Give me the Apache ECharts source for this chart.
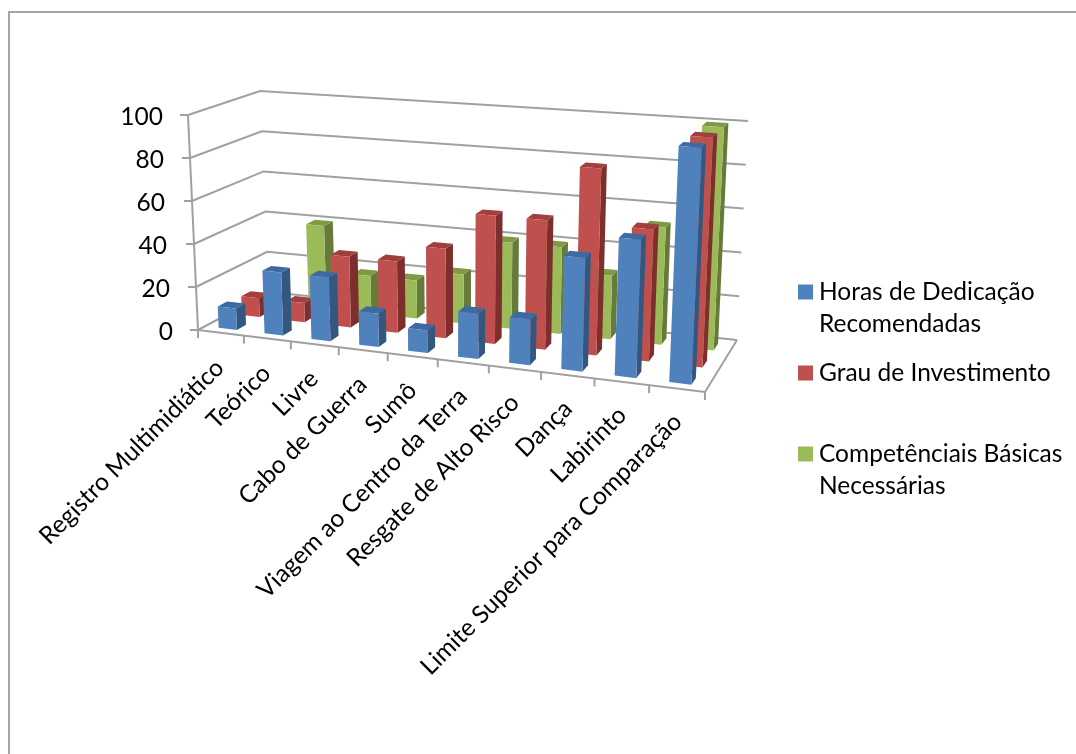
<!DOCTYPE html>
<html><head><meta charset="utf-8">
<style>html,body{margin:0;padding:0;background:#fff}#c{width:1076px;height:754px}</style>
<script src="https://cdn.jsdelivr.net/npm/echarts@6/dist/echarts.min.js"></script>
</head><body><div id="c"></div>
<script>
const categories = ["Registro Multimidiático","Teórico","Livre","Cabo de Guerra","Sumô","Viagem ao Centro da Terra","Resgate de Alto Risco","Dança","Labirinto","Limite Superior para Comparação"];
const horas = [10,29,29,15,10,20,20,49,59,100];
const grau = [9,9,33,33,41,58,58,83,58,100];
const competencias = [null,40,18,18,23,40,40,29,53,100];
const yTicks = [0,20,40,60,80,100];
const seriesNames = ["Horas de Dedicação Recomendadas","Grau de Investimento","Competênciais Básicas Necessárias"];
const legendLines = ["Horas de Dedicação\nRecomendadas","Grau de Investimento\n","Competênciais Básicas\nNecessárias"];

const FONT = 'Lato';
const FONT_SIZE = 24.5;
const GRID = {left:198, top:115, width:507, height:215};
const CORNERS = {
  frontLeft:  {b:[198,330], t:[188,115]},
  frontRight: {b:[705,392], t:[716,152]},
  backLeft:   {b:[269,292], t:[260,91]},
  backRight:  {b:[737,340], t:[748,121]}
};
const PERSP = 1.115;
const lerp = (a,b,k)=>[a[0]+(b[0]-a[0])*k, a[1]+(b[1]-a[1])*k];
function project(x, y, d){
  const u = (x-GRID.left)/GRID.width, vf = (GRID.top+GRID.height-y)/GRID.height;
  const t = u/(u+PERSP*(1-u));
  const C = CORNERS;
  const fl = lerp(lerp(C.frontLeft.b,C.frontRight.b,t), lerp(C.backLeft.b,C.backRight.b,t), d);
  const tp = lerp(lerp(C.frontLeft.t,C.frontRight.t,t), lerp(C.backLeft.t,C.backRight.t,t), d);
  return lerp(fl,tp,vf);
}
const poly = (points,fill)=>({type:'polygon',shape:{points},style:{fill}});
function barSeries(name,values,color,side,top,d0,d1,z){
  return {
    name, type:'custom', coordinateSystem:'cartesian2d', z, silent:true,
    itemStyle:{color}, encode:{x:0,y:1},
    data: values.map((v,i)=>[i,v]),
    renderItem(params,api){
      const v = api.value(1);
      if(v==null || isNaN(v)) return null;
      const i = api.value(0);
      const c = api.coord([i,v]), base = api.coord([i,0]), w = api.size([1,0])[0];
      const x0 = c[0]-w*0.2, x1 = c[0]+w*0.2, yT = c[1], yB = base[1];
      const P=(x,y,d)=>project(x,y,d);
      return {type:'group',children:[
        poly([P(x1,yB,d0),P(x1,yB,d1),P(x1,yT,d1),P(x1,yT,d0)],side),
        poly([P(x0,yT,d0),P(x1,yT,d0),P(x1,yT,d1),P(x0,yT,d1)],top),
        poly([P(x0,yB,d0),P(x1,yB,d0),P(x1,yT,d0),P(x0,yT,d0)],color)
      ]};
    }
  };
}
const LINE = {stroke:'#a0a0a0',lineWidth:2,fill:'none'};
const gridSeries = {
  type:'custom', coordinateSystem:'cartesian2d', z:1, silent:true, encode:{x:0,y:1},
  data: yTicks.map(v=>[0,v]),
  renderItem(params,api){
    const v = api.value(1);
    const y = api.coord([0,v])[1];
    const L = GRID.left, R = GRID.left+GRID.width;
    const a = project(L,y,0), b = project(L,y,1), c = project(R,y,1);
    const ch = [
      {type:'polyline',shape:{points:[a,b,c]},style:LINE},
      {type:'line',shape:{x1:a[0]-8,y1:a[1],x2:a[0],y2:a[1]},style:LINE}
    ];
    if(v===0){
      const top = project(L,GRID.top,0);
      ch.push({type:'line',shape:{x1:a[0],y1:a[1],x2:top[0],y2:top[1]},style:LINE});
      const f = project(R,y,0);
      ch.push({type:'polyline',shape:{points:[a,f,c]},style:LINE});
    }
    return {type:'group',children:ch};
  }
};
const catSeries = {
  type:'custom', coordinateSystem:'cartesian2d', z:2, silent:true, encode:{x:0,y:1},
  data: categories.map((c,i)=>[i,0]),
  renderItem(params,api){
    const i = api.value(0);
    const c = api.coord([i,0]), w = api.size([1,0])[0];
    const tick = x=>{const p=project(x,c[1],0);return {type:'line',shape:{x1:p[0],y1:p[1],x2:p[0],y2:p[1]+8},style:LINE};};
    const m = project(c[0],c[1],0);
    const ch = [tick(c[0]-w/2),
      {type:'text',x:m[0]-1+i*0.2,y:m[1]+31-i*0.2,rotation:Math.PI/4,
       style:{text:categories[i],textAlign:'right',textVerticalAlign:'middle',fontFamily:FONT,fontSize:FONT_SIZE,fill:'#000'}}];
    if(i===categories.length-1) ch.push(tick(c[0]+w/2));
    return {type:'group',children:ch};
  }
};
const labelPad = {r0:0,r20:3,r40:6,r60:8,r80:9,r100:10};
const rich = {};
Object.keys(labelPad).forEach(k=>rich[k]={fontFamily:FONT,fontSize:FONT_SIZE,color:'#000',padding:[4,labelPad[k],0,0]});
const chart = echarts.init(document.getElementById('c'),null,{renderer:'canvas'});
chart.setOption({
  animation:false, backgroundColor:'#fff',
  graphic:[{type:'rect',shape:{x:9,y:12,width:1200,height:900},style:{fill:'none',stroke:'#a6a6a6',lineWidth:2},silent:true,z:-1}],
  grid:GRID,
  xAxis:{type:'category',data:categories,axisLine:{show:false},axisTick:{show:false},axisLabel:{show:false},splitLine:{show:false}},
  yAxis:{type:'value',min:0,max:100,interval:20,axisLine:{show:false},axisTick:{show:false},splitLine:{show:false},
    axisLabel:{margin:25,formatter:v=>'{r'+v+'|'+v+'}',rich}},
  legend:{orient:'vertical',left:798,top:276,padding:0,itemWidth:15,itemHeight:64,itemGap:17,selectedMode:false,
    icon:'path://M0 8.5h15v15h-15z M0 0h0 M0 64h0',
    data:seriesNames,
    formatter:n=>legendLines[seriesNames.indexOf(n)],
    textStyle:{fontFamily:FONT,fontSize:FONT_SIZE,lineHeight:32,color:'#000',padding:[0,0,0,1]}},
  series:[gridSeries,catSeries,
    barSeries(seriesNames[2],competencias,'#9BBB59','#667B3A','#7F9A46',0.767,0.9,3),
    barSeries(seriesNames[1],grau,'#C0504D','#7C2F2D','#A03F3C',0.433,0.567,4),
    barSeries(seriesNames[0],horas,'#4F81BD','#34577F','#3D6AA0',0.1,0.233,5)
  ]
});
</script></body></html>
